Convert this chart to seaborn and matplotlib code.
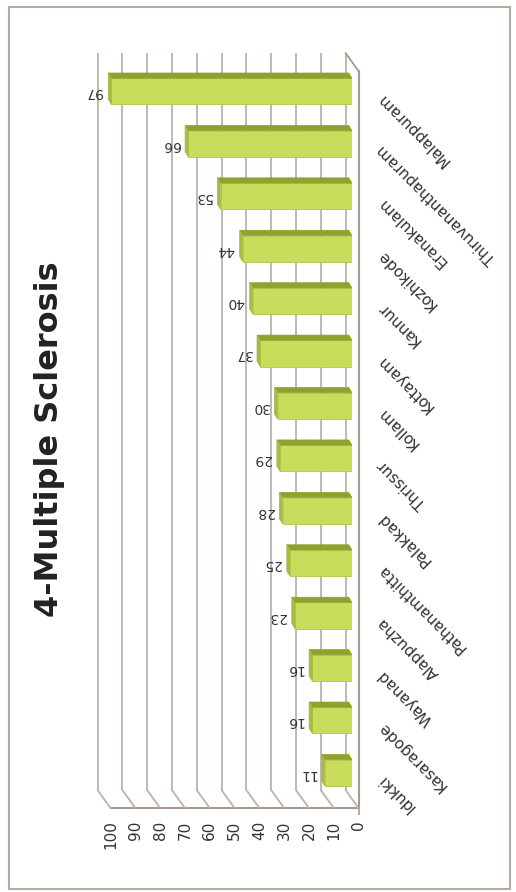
import numpy as np
import matplotlib.pyplot as plt
from matplotlib.patches import Polygon, Rectangle
from matplotlib.transforms import ScaledTranslation
import pandas as pd
import seaborn as sns

# districts listed top to bottom as in the chart
districts = ['Malappuram', 'Thiruvananthapuram', 'Eranakulam', 'Kozhikode', 'Kannur',
             'Kottayam', 'Kollam', 'Thrissur', 'Palakkad', 'Pathanamthitta',
             'Alappuzha', 'Wayanad', 'Kasaragode', 'Idukki']
cases = [97, 66, 53, 44, 40, 37, 30, 29, 28, 25, 23, 16, 16, 11]
value_ticks = list(range(0, 101, 10))
title = '4-Multiple Sclerosis'

df = pd.DataFrame({'district': districts, 'cases': cases})

sns.set_style('white')
plt.rcParams['font.family'] = ['DejaVu Sans']

front = '#c9dc5c'
topc = '#8fa22e'
endc = '#a7bb3c'
grid = '#bfb1a7'
axc = '#a8998f'
txt = '#333333'

fig = plt.figure(figsize=(5.16, 8.92), dpi=100)
ax = fig.add_axes([104 / 516, 1 - 799 / 892, 248 / 516, 737 / 892])

sns.barplot(data=df, x='cases', y='district', orient='h', color=front,
            width=0.5, saturation=1, edgecolor='#b3c64a', linewidth=0.6, ax=ax)

ax.set_xlim(100, 0)
ax.set_ylim(len(districts) - 0.5, -0.56)

# fake 3d: top face and end face of every bar
dx, dy = 1.3, 0.1
for p in ax.patches[:len(cases)]:
    w = p.get_width()
    y0 = p.get_y()
    h = p.get_height()
    ax.add_patch(Polygon([(0, y0), (w, y0), (w + dx, y0 - dy), (dx, y0 - dy)],
                         closed=True, facecolor=topc, edgecolor=topc, lw=0.5, zorder=3))
    ax.add_patch(Polygon([(w, y0), (w, y0 + h), (w + dx, y0 + h - dy), (w + dx, y0 - dy)],
                         closed=True, facecolor=endc, edgecolor=endc, lw=0.5, zorder=3))

for i, v in enumerate(cases):
    ax.text(v + 3.5, i + 0.02, str(v), rotation=180, ha='right', va='center',
            fontsize=10, color=txt, clip_on=False, zorder=5)

# back and front planes of the 3d box
back = ScaledTranslation(-6.5 / 100, 9 / 100, fig.dpi_scale_trans)
fwd = ScaledTranslation(6.5 / 100, -9 / 100, fig.dpi_scale_trans)
xtr = ax.get_xaxis_transform()

ax.vlines(value_ticks, 0, 1, transform=xtr + back, color=grid, lw=1.3, zorder=0, clip_on=False)
for v in value_ticks:
    ax.annotate('', xy=(v, 0), xycoords=xtr + fwd, xytext=(v, 0), textcoords=xtr + back,
                arrowprops=dict(arrowstyle='-', color=grid, lw=1.3, shrinkA=0, shrinkB=0))
ax.plot([100, 0], [0, 0], transform=xtr + fwd, color=axc, lw=1.5, clip_on=False)
ax.plot([0, 0], [0, 1], transform=xtr + fwd, color=axc, lw=1.5, clip_on=False)
ax.annotate('', xy=(0, 1), xycoords=xtr + fwd, xytext=(0, 1), textcoords=xtr + back,
            arrowprops=dict(arrowstyle='-', color=axc, lw=1.3, shrinkA=0, shrinkB=0))
bounds = np.arange(-0.5, len(districts))
ax.plot(np.zeros(len(bounds)), bounds, transform=ax.transData + fwd, ls='none',
        marker=3, markersize=5, markeredgewidth=1.2, color=axc, clip_on=False)

for s in ax.spines.values():
    s.set_visible(False)

ax.set_xticks(value_ticks)
ax.tick_params(axis='x', rotation=90, labelsize=11, length=5, width=1.2,
               color=axc, labelcolor=txt, pad=4)

ax.yaxis.tick_right()
ax.set_yticks(range(len(districts)))
ax.set_yticklabels(districts)
ax.tick_params(axis='y', which='major', length=0, pad=20, labelsize=11, labelcolor=txt)
ax.set_xlabel('')
ax.set_ylabel('')

for t in ax.xaxis.get_major_ticks():
    t.label1.set_transform(t.label1.get_transform() + fwd)
    t.tick1line.set_transform(t.tick1line.get_transform() + fwd)
for t in ax.yaxis.get_major_ticks():
    t.label2.set_rotation(135)
    t.label2.set_rotation_mode('anchor')
    t.label2.set_ha('right')
    t.label2.set_va('center')
    t.label2.set_transform(t.label2.get_transform() + ScaledTranslation(0, -4 / 100, fig.dpi_scale_trans))

fig.text(50 / 516, 1 - 439 / 892, title, rotation=90, fontsize=23, fontweight='bold',
         ha='center', va='center', color='#222222')

fig.add_artist(Rectangle((9 / 516, 1 - 889 / 892), 501 / 516, 882 / 892,
                         transform=fig.transFigure, fill=False, edgecolor='#b5a9a0', lw=1.5))

fig.savefig('out.png', dpi=100)
